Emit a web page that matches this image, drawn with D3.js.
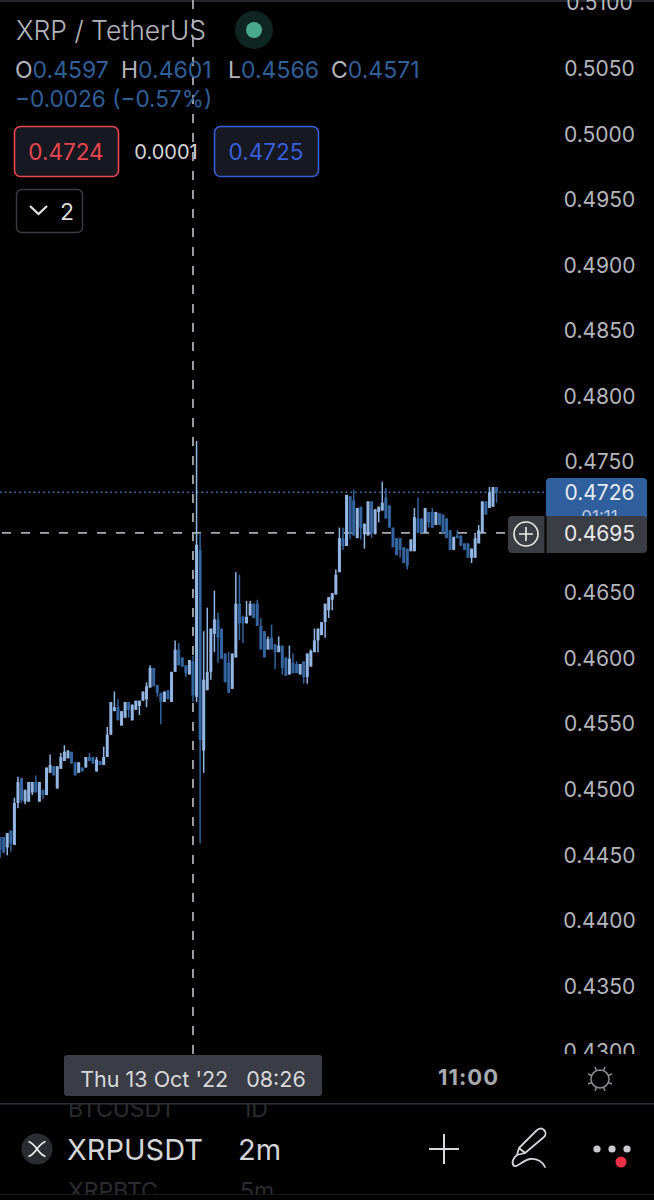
<!DOCTYPE html>
<html><head><meta charset="utf-8">
<script src="https://cdn.jsdelivr.net/npm/d3@7"></script>
<style>html,body{margin:0;padding:0;background:#000;overflow:hidden}svg{display:block}text{font-family:Inter,"Noto Sans",sans-serif}</style>
</head><body><div id="c"></div>
<script>
const startMinute = 398, stepMinutes = 2;
const open = [
.4463,.4463,.4455,.4468,.4457,.4489,.4508,.4490,.4490,.4497,
.4505,.4490,.4499,.4495,.4512,.4517,.4500,.4515,.4521,.4523,
.4528,.4520,.4512,.4516,.4516,.4524,.4524,.4513,.4521,.4518,
.4524,.4541,.4559,.4562,.4548,.4554,.4566,.4552,.4560,.4563,
.4567,.4568,.4577,.4592,.4579,.4573,.4566,.4575,.4566,.4589,
.4606,.4600,.4594,.4587,.4597,.4570,.4682,.4529,.4575,.4589,
.4618,.4629,.4622,.4603,.4596,.4576,.4600,.4641,.4631,.4626,
.4632,.4641,.4641,.4624,.4620,.4606,.4615,.4610,.4604,.4609,
.4600,.4587,.4596,.4595,.4587,.4597,.4585,.4593,.4604,.4613,
.4617,.4627,.4636,.4644,.4648,.4665,.4691,.4685,.4723,.4720,
.4691,.4715,.4694,.4693,.4719,.4694,.4711,.4712,.4722,.4716,
.4699,.4691,.4691,.4684,.4683,.4681,.4681,.4706,.4706,.4695,
.4711,.4711,.4701,.4710,.4709,.4706,.4697,.4682,.4693,.4693,
.4687,.4687,.4676,.4676,.4687,.4695,.4719,.4714,.4715,.4730];
const high = [
.4463,.4463,.4466,.4468,.4493,.4509,.4508,.4499,.4505,.4505,
.4510,.4505,.4499,.4516,.4526,.4517,.4517,.4527,.4533,.4529,
.4528,.4520,.4520,.4516,.4524,.4527,.4524,.4524,.4521,.4532,
.4547,.4566,.4574,.4568,.4559,.4566,.4566,.4564,.4567,.4567,
.4574,.4581,.4594,.4592,.4579,.4573,.4574,.4575,.4589,.4613,
.4611,.4600,.4594,.4598,.4601,.4765,.4695,.4620,.4638,.4622,
.4651,.4634,.4622,.4603,.4604,.4603,.4665,.4663,.4632,.4643,
.4643,.4641,.4644,.4630,.4620,.4616,.4625,.4610,.4616,.4609,
.4600,.4609,.4603,.4597,.4595,.4597,.4603,.4606,.4622,.4622,
.4627,.4641,.4646,.4649,.4667,.4699,.4699,.4724,.4723,.4728,
.4714,.4715,.4702,.4719,.4719,.4713,.4715,.4734,.4729,.4716,
.4699,.4691,.4691,.4684,.4683,.4690,.4714,.4722,.4706,.4714,
.4711,.4714,.4711,.4710,.4709,.4706,.4697,.4692,.4697,.4693,
.4687,.4687,.4683,.4695,.4701,.4719,.4719,.4730,.4730,.4730];
const low = [
.4447,.4451,.4449,.4452,.4457,.4485,.4489,.4488,.4490,.4495,
.4497,.4490,.4492,.4495,.4512,.4510,.4500,.4515,.4521,.4523,
.4519,.4510,.4512,.4513,.4516,.4521,.4519,.4513,.4518,.4518,
.4524,.4541,.4559,.4552,.4548,.4554,.4554,.4552,.4560,.4556,
.4567,.4562,.4577,.4578,.4570,.4549,.4566,.4568,.4566,.4589,
.4594,.4593,.4585,.4587,.4566,.4566,.4458,.4512,.4575,.4583,
.4604,.4596,.4599,.4581,.4573,.4576,.4600,.4613,.4611,.4626,
.4632,.4630,.4624,.4606,.4600,.4606,.4606,.4591,.4604,.4587,
.4586,.4587,.4588,.4588,.4587,.4580,.4580,.4593,.4604,.4604,
.4617,.4615,.4630,.4636,.4648,.4665,.4682,.4685,.4690,.4693,
.4691,.4690,.4683,.4693,.4691,.4694,.4703,.4712,.4706,.4699,
.4684,.4678,.4676,.4672,.4667,.4681,.4681,.4695,.4695,.4695,
.4699,.4699,.4701,.4701,.4695,.4691,.4682,.4682,.4691,.4685,
.4682,.4676,.4672,.4676,.4687,.4695,.4709,.4714,.4715,.4718];
const close = [
.4453,.4451,.4466,.4458,.4489,.4505,.4491,.4499,.4505,.4505,
.4497,.4505,.4495,.4516,.4518,.4510,.4517,.4524,.4528,.4529,
.4519,.4510,.4520,.4513,.4524,.4521,.4519,.4522,.4518,.4524,
.4541,.4566,.4562,.4552,.4559,.4566,.4560,.4564,.4567,.4567,
.4574,.4578,.4592,.4578,.4573,.4566,.4574,.4568,.4589,.4606,
.4594,.4593,.4588,.4598,.4571,.4686,.4537,.4583,.4589,.4622,
.4629,.4615,.4599,.4581,.4573,.4603,.4641,.4626,.4626,.4631,
.4641,.4630,.4624,.4606,.4600,.4614,.4606,.4604,.4609,.4592,
.4586,.4599,.4588,.4588,.4595,.4585,.4603,.4605,.4613,.4622,
.4627,.4641,.4646,.4649,.4663,.4691,.4685,.4724,.4695,.4693,
.4714,.4699,.4702,.4719,.4695,.4713,.4715,.4718,.4706,.4699,
.4684,.4678,.4682,.4672,.4670,.4690,.4707,.4695,.4695,.4714,
.4703,.4699,.4711,.4701,.4695,.4691,.4682,.4692,.4691,.4685,
.4682,.4676,.4683,.4691,.4697,.4719,.4709,.4726,.4730,.4726];
const priceTicks = [.51,.505,.5,.495,.49,.485,.48,.475,.47,.465,.46,.455,.45,.445,.44,.435,.43];
const timeTicks = [660];
const timeTickLabels = ["11:00"];
const lastPrice = .4726, crossPrice = .4695, crossMinute = 506;
const legendOHLC = [["O","0.4597"],["H","0.4601"],["L","0.4566"],["C","0.4571"]];

const W = 654, H = 1200, TXT = "#b4b6bd", UP = "#93b6e4", DOWN = "#33649f", LINE = "#2c2e36";
const svg = d3.select("#c").append("svg").attr("width", W).attr("height", H).style("background", "#000");
const x = d3.scaleLinear().domain([398, 660]).range([0.1, 468]);
const y = d3.scaleLinear().domain([.505, .43]).range([67.5, 1050.7]);
const defs = svg.append("defs");
const clip = (id, a, b, c, d) => defs.append("clipPath").attr("id", id).append("rect").attr("x", a).attr("y", b).attr("width", c).attr("height", d);
clip("plot", 0, 0, 546, 1054); clip("scale", 546, 0, 108, 1054);
clip("tabs", 0, 1104, 654, 90);

svg.append("rect").attr("width", W).attr("height", 2).attr("fill", "#23252c");

// price-line, crosshair
svg.append("line").attr("x1", 0).attr("x2", 546).attr("y1", y(lastPrice)).attr("y2", y(lastPrice))
  .attr("stroke", "#4674b4").attr("stroke-width", 1.4).attr("stroke-dasharray", "1.6 3.2");
const crossX = x(crossMinute);
svg.append("line").attr("x1", crossX).attr("x2", crossX).attr("y1", 0).attr("y2", 1056)
  .attr("stroke", "#a9abb0").attr("stroke-width", 1.8).attr("stroke-dasharray", "9 10");
svg.append("line").attr("x1", 2).attr("x2", 508).attr("y1", y(crossPrice)).attr("y2", y(crossPrice))
  .attr("stroke", "#a9abb0").attr("stroke-width", 1.8).attr("stroke-dasharray", "9 10");

// candles
const rows = d3.range(open.length).map(i => ({t: startMinute + i * stepMinutes, o: open[i], h: high[i], l: low[i], c: close[i]}));
const plot = svg.append("g").attr("clip-path", "url(#plot)");
const colour = d => d.c >= d.o ? UP : DOWN;
plot.selectAll(".w").data(rows).join("line").attr("class", "w")
  .attr("x1", d => x(d.t)).attr("x2", d => x(d.t)).attr("y1", d => y(d.h)).attr("y2", d => y(d.l))
  .attr("stroke", colour).attr("stroke-width", 1.5);
plot.selectAll(".b").data(rows).join("rect").attr("class", "b")
  .attr("x", d => x(d.t) - 1.5).attr("width", 3)
  .attr("y", d => y(Math.max(d.o, d.c))).attr("height", d => Math.max(1, Math.abs(y(d.o) - y(d.c))))
  .attr("fill", colour);

// price axis
const yAxis = svg.append("g").attr("clip-path", "url(#scale)")
  .call(d3.axisRight(y).tickValues(priceTicks).tickSize(0).tickPadding(0).tickFormat(d3.format(".4f")));
yAxis.select(".domain").remove();
yAxis.selectAll("text").attr("x", 599.5).attr("dy", "0.38em").attr("text-anchor", "middle").attr("font-size", 21).attr("fill", TXT).style("font-family", "Inter");

// last price / crosshair tags
svg.append("path").attr("d", "M546 482a4 4 0 0 1 4-4h93a4 4 0 0 1 4 4v36h-101z").attr("fill", "#2f5f9c");
svg.append("text").attr("x", 599.5).attr("y", y(lastPrice)).attr("dy", "0.38em").attr("text-anchor", "middle").attr("font-size", 21).attr("fill", "#e6ebf3").text(d3.format(".4f")(lastPrice));
svg.append("text").attr("x", 599.5).attr("y", 523).attr("text-anchor", "middle").attr("font-size", 17).attr("fill", "#b9c9e0").text("01:11");
svg.append("rect").attr("x", 508).attr("y", 516).attr("width", 139).attr("height", 37).attr("rx", 4).attr("fill", "#3b3d44");
svg.append("rect").attr("x", 544.5).attr("y", 516).attr("width", 2).attr("height", 37).attr("fill", "#000");
svg.append("text").attr("x", 599.5).attr("y", y(crossPrice)).attr("dy", "0.38em").attr("text-anchor", "middle").attr("font-size", 21).attr("fill", "#e8e9ec").text(d3.format(".4f")(crossPrice));
svg.append("circle").attr("cx", 526).attr("cy", 534).attr("r", 12).attr("fill", "none").attr("stroke", "#eee").attr("stroke-width", 1.6);
svg.append("path").attr("d", "M526 527v14M519 534h14").attr("stroke", "#eee").attr("stroke-width", 1.6);

// header
svg.append("text").attr("x", 16).attr("y", 40).attr("font-size", 26.5).attr("fill", TXT).attr("font-weight", 300).text("XRP / TetherUS");
svg.append("circle").attr("cx", 254).attr("cy", 30).attr("r", 19).attr("fill", "#0e2521");
svg.append("circle").attr("cx", 254).attr("cy", 30).attr("r", 8).attr("fill", "#4aa88c");
const ohlcX = [15, 121, 228, 331];
const lg = svg.append("text").attr("y", 77.500).attr("font-size", 23);
legendOHLC.forEach(([k, v], i) => {
  lg.append("tspan").attr("x", ohlcX[i]).attr("fill", TXT).text(k);
  lg.append("tspan").attr("fill", "#315f98").text(v);
});
svg.append("text").attr("x", 15).attr("y", 107).attr("font-size", 22.6).attr("fill", "#315f98").text("−0.0026 (−0.57%)");

const btn = (bx, w, col, label) => {
  svg.append("rect").attr("x", bx + .5).attr("y", 126.5).attr("width", w).attr("height", 50).attr("rx", 6).attr("fill", "#161822").attr("stroke", col).attr("stroke-width", 1.6);
  svg.append("text").attr("x", bx + w / 2).attr("y", 160).attr("text-anchor", "middle").attr("font-size", 22.5).attr("fill", col).text(label);
};
btn(14, 104, "#e9464f", "0.4724");
btn(214, 104, "#3a5fd9", "0.4725");
svg.append("text").attr("x", 166).attr("y", 159).attr("text-anchor", "middle").attr("font-size", 20).attr("fill", "#d6d6d8").text("0.0001");
svg.append("rect").attr("x", 16.5).attr("y", 189.5).attr("width", 66).attr("height", 43).attr("rx", 5).attr("fill", "#000").attr("stroke", "#3a3c42").attr("stroke-width", 1.4);
svg.append("path").attr("d", "M30 206l8.500 8 8.500-8").attr("fill", "none").attr("stroke", "#e4e4e6").attr("stroke-width", 2.2);
svg.append("text").attr("x", 67).attr("y", 219.500).attr("text-anchor", "middle").attr("font-size", 23).attr("fill", "#dcdcde").text("2");

// time axis
svg.append("rect").attr("x", 64).attr("y", 1055).attr("width", 258).attr("height", 41).attr("rx", 3).attr("fill", "#3a3c46");
svg.append("text").attr("x", 193).attr("y", 1087).attr("text-anchor", "middle").attr("font-size", 21.5).attr("fill", "#d8d9dc").attr("xml:space", "preserve").text("Thu 13 Oct '22   08:26");
const xAxis = svg.append("g").attr("transform", "translate(0,1072)")
  .call(d3.axisBottom(x).tickValues(timeTicks).tickSize(0).tickPadding(0).tickFormat((d, i) => timeTickLabels[i]));
xAxis.select(".domain").remove();
xAxis.selectAll("text").attr("y", 0).attr("dy", "0.6em").attr("font-size", 22).attr("font-weight", 700).attr("letter-spacing", 1).attr("fill", "#a8aaaf").style("font-family", "Inter");

// gear / sun icon
const gear = svg.append("g").attr("transform", "translate(600,1079)").attr("stroke", "#8c8e94").attr("stroke-width", 1.5).attr("fill", "none");
gear.append("circle").attr("r", 9);
d3.range(8).forEach(k => gear.append("line").attr("y1", -9).attr("y2", -13).attr("transform", `rotate(${k * 45 + 22.5})`));

// bottom bar
svg.append("rect").attr("x", 0).attr("y", 1103).attr("width", W).attr("height", 1.6).attr("fill", LINE);
svg.append("rect").attr("x", 0).attr("y", 1194).attr("width", W).attr("height", 1).attr("fill", "#17181c");
const tabs = svg.append("g").attr("clip-path", "url(#tabs)");
[["BTCUSDT", 68, 1117, "1D", 242], ["XRPBTC", 68, 1199, "5m", 240]].forEach(([a, ax, ay, b, bx]) => {
  tabs.append("text").attr("x", ax).attr("y", ay).attr("font-size", 23).attr("fill", "#2b2c30").text(a);
  tabs.append("text").attr("x", bx).attr("y", ay).attr("font-size", 23).attr("fill", "#2b2c30").text(b);
});
svg.append("circle").attr("cx", 37).attr("cy", 1149).attr("r", 15.500).attr("fill", "#2a2c32");
svg.append("path").attr("d", "M28.500 1141.500c3 1 6 4 8.500 7.500 2.500-3.500 5.500-6.500 8.500-7.500M28.500 1156.500c3-1 6-4 8.500-7.500 2.500 3.500 5.500 6.500 8.500 7.500").attr("fill", "none").attr("stroke", "#f0f0f0").attr("stroke-width", 1.7);
svg.append("text").attr("x", 67).attr("y", 1160).attr("font-size", 29).attr("fill", "#d4d5d8").text("XRPUSDT");
svg.append("text").attr("x", 238).attr("y", 1160).attr("font-size", 29).attr("fill", "#d4d5d8").text("2m");
svg.append("path").attr("d", "M444 1134v30M429 1149h30").attr("stroke", "#d8d8da").attr("stroke-width", 2);
svg.append("path").attr("d", "M525 1153l-6-5 17-17c3-3 6-3 8-1s2 5 0 7zM519 1148l-2 7 8-2M517 1155c-4 3-6 8-3 11 3 2 9-6 16-7 7-1 13 3 15 8")
  .attr("fill", "none").attr("stroke", "#d4d5d8").attr("stroke-width", 1.8).attr("stroke-linejoin", "round").attr("stroke-linecap", "round");
[597, 612, 627].forEach(cx => svg.append("circle").attr("cx", cx).attr("cy", 1149).attr("r", 3.600).attr("fill", "#c9cacd"));
svg.append("circle").attr("cx", 621).attr("cy", 1162).attr("r", 5.500).attr("fill", "#ee3047");
</script></body></html>
